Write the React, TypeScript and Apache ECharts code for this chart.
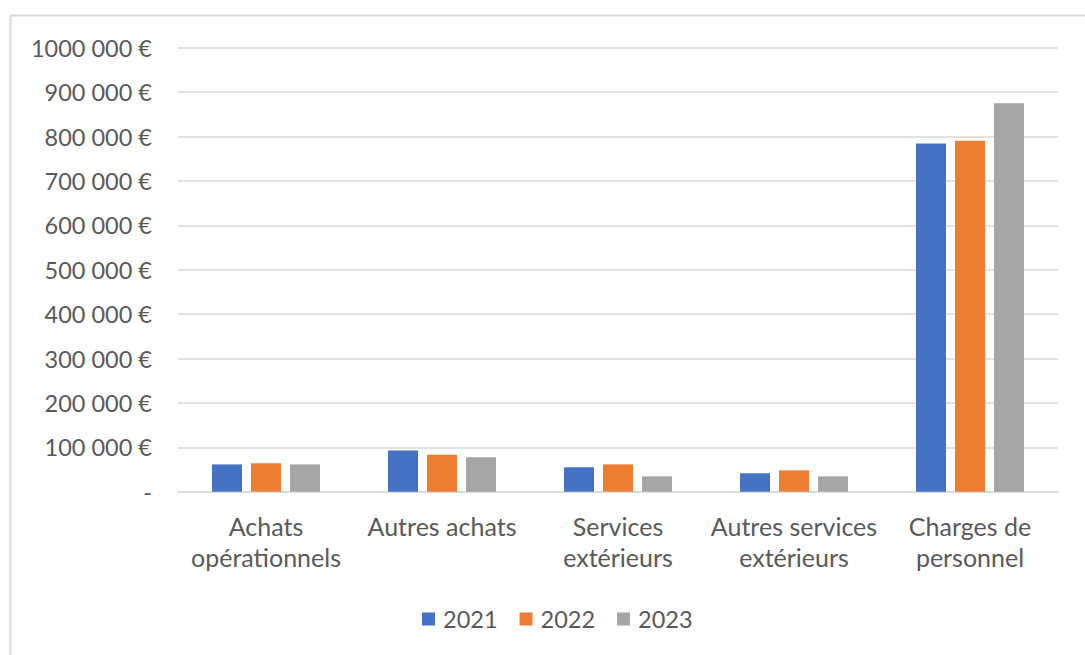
import React, { useEffect, useRef } from "react";
import * as echarts from "echarts";

const categories = [
  "Achats\nopérationnels",
  "Autres achats",
  "Services\nextérieurs",
  "Autres services\nextérieurs",
  "Charges de\npersonnel",
];
const seriesNames = ["2021", "2022", "2023"];
const values2021 = [61500, 93000, 55000, 41500, 784500];
const values2022 = [64000, 83500, 61500, 48000, 790500];
const values2023 = [61500, 77500, 34500, 34500, 875000];
const colors = ["#4472C4", "#ED7D31", "#A5A5A5"];

const fmt = (v: number) => {
  if (v === 0) return "-";
  const s = String(Math.round(v));
  const last = s.slice(-3);
  const head = s.slice(0, -3);
  return head + " " + last + " €";
};

export default function App() {
  const ref = useRef<HTMLDivElement>(null);
  useEffect(() => {
    if (!ref.current) return;
    const chart = echarts.init(ref.current, undefined, { renderer: "svg" });
    const font = "Lato";
    const data = [values2021, values2022, values2023];
    chart.setOption({
      animation: false,
      backgroundColor: "#ffffff",
      textStyle: { fontFamily: font },
      graphic: [
        {
          type: "rect",
          shape: { x: 10.5, y: 15.5, width: 1200, height: 800 },
          style: { fill: "none", stroke: "#d9d9d9", lineWidth: 2 },
          silent: true,
        },
      ],
      grid: { left: 178, right: 27, top: 47.7, bottom: 163.3, containLabel: false },
      legend: {
        bottom: 19,
        left: 417,
        itemWidth: 13,
        itemHeight: 13,
        itemGap: 22,
        icon: "rect",
        textStyle: { fontFamily: font, fontSize: 23.5, color: "#595959", padding: [0, 0, 0, 3] },
        data: seriesNames,
      },
      xAxis: {
        type: "category",
        data: categories,
        axisLine: { show: true, lineStyle: { color: "#d9d9d9", width: 1.5 } },
        axisTick: { show: false },
        axisLabel: {
          fontFamily: font,
          fontSize: 25,
          color: "#595959",
          margin: 19,
          lineHeight: 31,
          interval: 0,
        },
      },
      yAxis: {
        type: "value",
        min: 0,
        max: 1000000,
        interval: 100000,
        axisLine: { show: false },
        axisTick: { show: false },
        splitLine: { lineStyle: { color: "#d9d9d9", width: 1.5 } },
        axisLabel: {
          fontFamily: font,
          fontSize: 23.5,
          color: "#595959",
          margin: 26,
          formatter: (v: number) => fmt(v),
        },
      },
      series: seriesNames.map((name, i) => ({
        name,
        type: "bar",
        data: data[i],
        barWidth: 30,
        barGap: "30%",
        itemStyle: { color: colors[i] },
      })),
    });
    return () => chart.dispose();
  }, []);
  return (
    <div
      ref={ref}
      style={{ position: "fixed", left: 0, top: 0, width: 1085, height: 655 }}
    />
  );
}
